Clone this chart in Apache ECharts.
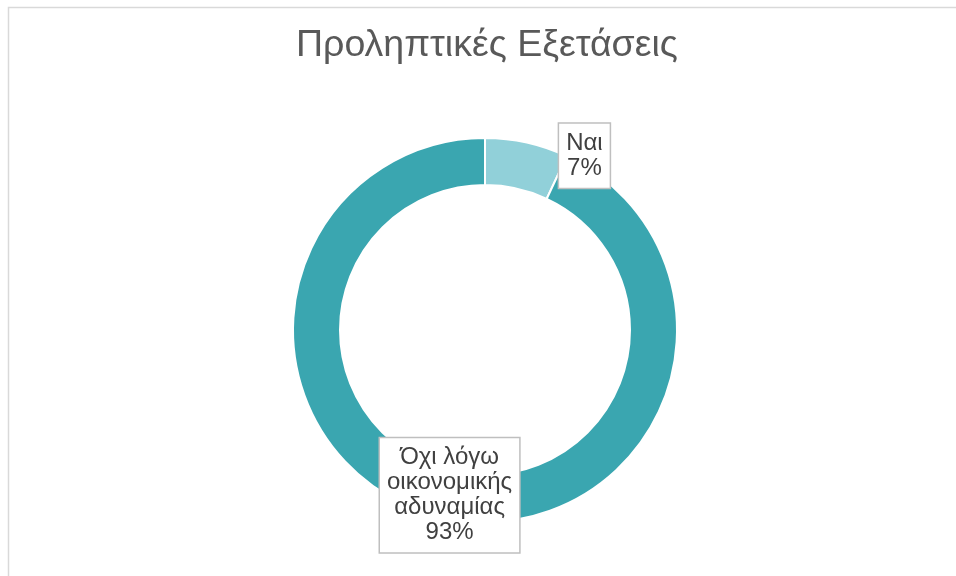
<!DOCTYPE html>
<html>
<head>
<meta charset="utf-8">
<script src="https://cdn.jsdelivr.net/npm/echarts@6/dist/echarts.min.js"></script>
<style>html,body{margin:0;padding:0;background:#fff}#c{width:956px;height:576px}</style>
</head>
<body>
<div id="c"></div>
<script>
const titleText = 'Προληπτικές Εξετάσεις';
const categories = ['Ναι', 'Όχι λόγω οικονομικής αδυναμίας'];
const labelLines = [['Ναι'], ['Όχι λόγω', 'οικονομικής', 'αδυναμίας']];
const values = [7, 93];
const colors = ['#91D0D9', '#3AA6B0'];
const labelOffsets = [[62, -7], [2, -2]];

const chart = echarts.init(document.getElementById('c'));
const font = '"Liberation Sans", Arial, sans-serif';
chart.setOption({
  animation: false,
  backgroundColor: '#ffffff',
  title: {
    text: titleText,
    left: 296,
    top: 27,
    padding: 0,
    textStyle: { fontFamily: font, fontSize: 37.5, fontWeight: 'normal', color: '#595959' }
  },
  graphic: [{
    type: 'rect', left: 6, top: 5, silent: true, z: -1,
    shape: { width: 1000, height: 700 },
    style: { fill: 'none', stroke: '#d9d9d9', lineWidth: 1.5 }
  }],
  series: [{
    type: 'pie',
    center: [485, 330],
    radius: [145, 192],
    startAngle: 90,
    clockwise: true,
    avoidLabelOverlap: false,
    itemStyle: { borderColor: '#ffffff', borderWidth: 2 },
    labelLine: { show: false },
    emphasis: { disabled: true },
    data: categories.map((c, i) => ({
      name: c,
      value: values[i],
      itemStyle: { color: colors[i] },
      label: {
        show: true,
        position: 'inside',
        offset: labelOffsets[i],
        formatter: (p) => labelLines[i].join('\n') + '\n' + Math.round(p.percent) + '%',
        fontFamily: font,
        fontSize: 24,
        lineHeight: 25,
        color: '#404040',
        align: 'center',
        backgroundColor: '#ffffff',
        borderColor: '#bfbfbf',
        borderWidth: 1.5,
        padding: [7, 7, 7, 7]
      }
    }))
  }]
});
</script>
</body>
</html>
